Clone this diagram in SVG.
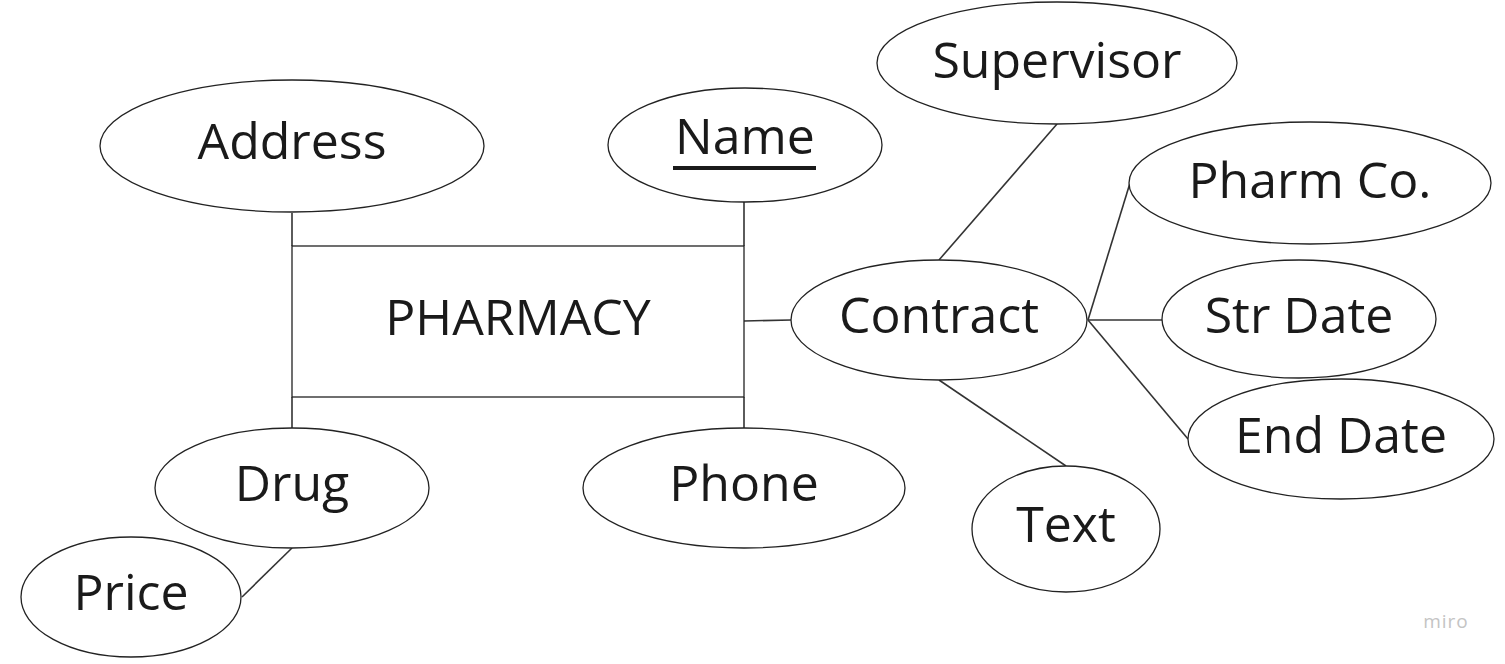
<svg xmlns="http://www.w3.org/2000/svg" width="1505" height="664" viewBox="0 0 1505 664">
<style>
.e{fill:#fff;stroke:#222;stroke-width:1.3}
.t{font-family:"Open Sans","Noto Sans",sans-serif;font-size:50px;fill:#1a1a1a;text-anchor:middle;dominant-baseline:central}
.c line{stroke:#333;stroke-width:1.6}
</style>
<rect width="1505" height="664" fill="#fff"/>
<g class="c" id="connectors">
<line x1="292" y1="213" x2="292" y2="246"/>
<line x1="744" y1="202" x2="744" y2="246"/>
<line x1="292" y1="397" x2="292" y2="428"/>
<line x1="744" y1="397" x2="744" y2="428"/>
<line x1="744" y1="321" x2="791" y2="320"/>
<line x1="1057" y1="124" x2="939" y2="260"/>
<line x1="1088" y1="320" x2="1130" y2="183"/>
<line x1="1088" y1="320" x2="1162" y2="320"/>
<line x1="1088" y1="320" x2="1188" y2="439"/>
<line x1="939" y1="380" x2="1066" y2="466"/>
<line x1="292" y1="548" x2="242" y2="597"/>
</g>
<g id="pharmacy"><rect class="e" x="292" y="246" width="452" height="151"/><text class="t" x="518" y="316">PHARMACY</text></g>
<g id="address"><ellipse class="e" cx="292" cy="146" rx="192" ry="66"/><text class="t" x="292" y="140">Address</text></g>
<g id="name"><ellipse class="e" cx="745" cy="145" rx="137" ry="57"/><text class="t" x="745" y="135">Name</text><rect x="673" y="166" width="143" height="4" fill="#1a1a1a"/></g>
<g id="supervisor"><ellipse class="e" cx="1057" cy="63" rx="180" ry="61"/><text class="t" x="1057" y="59">Supervisor</text></g>
<g id="pharmco"><ellipse class="e" cx="1310" cy="183" rx="181" ry="61"/><text class="t" x="1310" y="179">Pharm Co.</text></g>
<g id="strdate"><ellipse class="e" cx="1299" cy="319" rx="137" ry="59"/><text class="t" x="1299" y="314">Str Date</text></g>
<g id="enddate"><ellipse class="e" cx="1341" cy="439" rx="153" ry="60"/><text class="t" x="1341" y="434">End Date</text></g>
<g id="contract"><ellipse class="e" cx="939" cy="320" rx="148" ry="60"/><text class="t" x="939" y="314">Contract</text></g>
<g id="text"><ellipse class="e" cx="1066" cy="529" rx="94" ry="63"/><text class="t" x="1066" y="523">Text</text></g>
<g id="phone"><ellipse class="e" cx="744" cy="488" rx="161" ry="60"/><text class="t" x="744" y="482">Phone</text></g>
<g id="drug"><ellipse class="e" cx="292" cy="488" rx="137" ry="60"/><text class="t" x="292" y="482">Drug</text></g>
<g id="price"><ellipse class="e" cx="131" cy="597" rx="110" ry="60"/><text class="t" x="131" y="591">Price</text></g>
<text x="1446" y="628" font-family="'Open Sans',sans-serif" font-size="19" fill="#c4c4c4" text-anchor="middle" letter-spacing="1">miro</text>
</svg>
